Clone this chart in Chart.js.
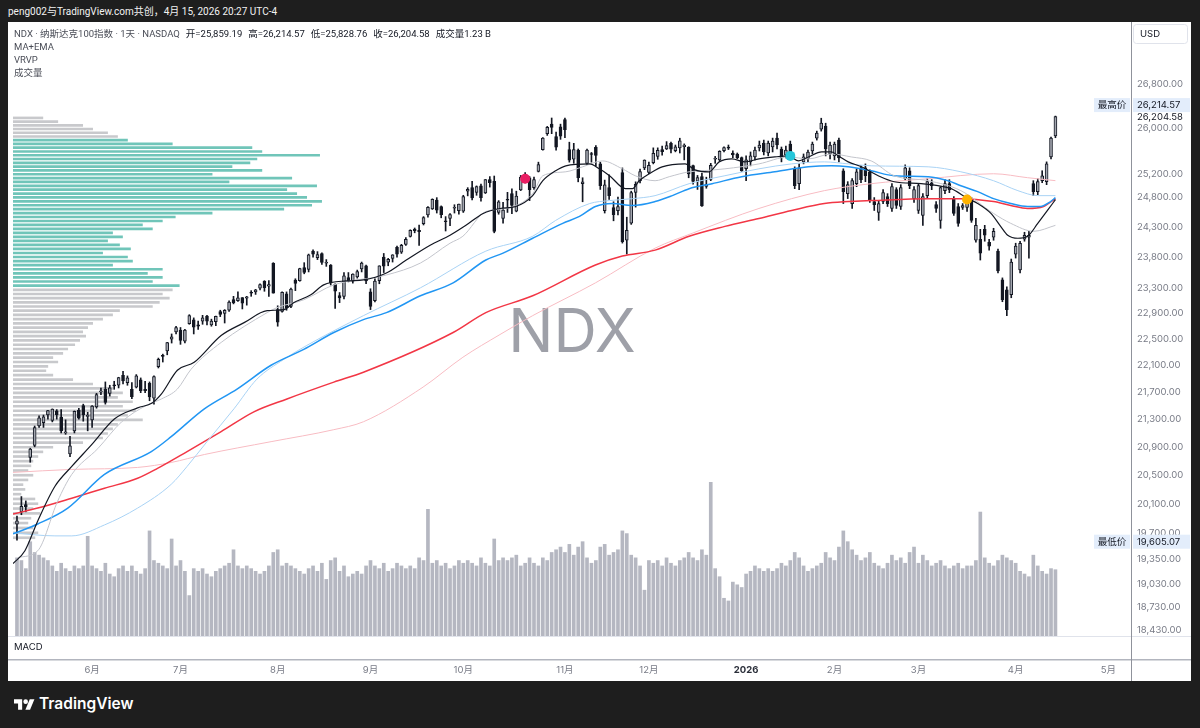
<!DOCTYPE html>
<html lang="zh-CN">
<head>
<meta charset="UTF-8">
<title>NDX · 纳斯达克100指数 · 1天</title>
<script src="https://cdn.jsdelivr.net/npm/chart.js"></script>
<style>
    html, body { margin: 0; padding: 0; }
    body {
        width: 1200px;
        height: 728px;
        overflow: hidden;
        position: relative;
        background: #1e1e1e;
        font-family: Roboto, "Noto Sans", "Noto Sans CJK SC", sans-serif;
    }
    #topbar {
        position: absolute;
        left: 8px;
        top: 4px;
        color: #f2f2f2;
        font-size: 10px;
        line-height: 16px;
    }
    #panel {
        position: absolute;
        left: 8px;
        top: 22px;
        width: 1183px;
        height: 659px;
        background: #fff;
    }
    #chart { position: absolute; left: 0; top: 0; }
    #legend {
        position: absolute;
        left: 6px;
        top: 5px;
        font-size: 9.5px;
        line-height: 13px;
        color: #131722;
        pointer-events: none;
    }
    #legend .t { color: #4a4d57; }
    #legend .g { margin-left: 6px; }
    #legend .s { color: #4a4d57; }
    #brand {
        position: absolute;
        left: 14px;
        top: 694px;
        color: #fff;
        font-family: Inter, Roboto, sans-serif;
        font-size: 15.5px;
        font-weight: 600;
        display: flex;
        align-items: center;
        gap: 4px;
    }
</style>
</head>
<body>

<div id="topbar">peng002与TradingView.com共创，4月 15, 2026 20:27 UTC-4</div>

<div id="panel">
    <canvas id="chart" width="1183" height="659"></canvas>
    <div id="legend">
        <div><span class="t">NDX · 纳斯达克100指数 · 1天 · NASDAQ</span><span class="g">开=25,859.19</span><span class="g">高=26,214.57</span><span class="g">低=25,828.76</span><span class="g">收=26,204.58</span><span class="g">成交量1.23 B</span></div>
        <div class="s">MA+EMA</div>
        <div class="s">VRVP</div>
        <div class="s">成交量</div>
    </div>
</div>

<div id="brand">
    <svg width="21" height="14" viewBox="0 0 36 24"><path fill="#fff" d="M14 22H7V11H0V4h14v18z"/><circle fill="#fff" cx="20" cy="8" r="4"/><path fill="#fff" d="M27.5 22H19.5l7.5-18h8z"/></svg>
    <span>TradingView</span>
</div>

<script>
    // daily candles [open, high, low, close], 2025-05-07 .. 2025-12-31
    const ohlc2025 = [
        // May
        [19820, 19930, 19605.07, 19868], [19990, 20200, 19950, 20064], [20090, 20140, 19990, 20061],
        [20750, 20880, 20680, 20868], [20920, 21200, 20900, 21179], [21200, 21350, 21180, 21319],
        [21250, 21360, 21180, 21335], [21360, 21430, 21300, 21427], [21280, 21450, 21260, 21447],
        [21420, 21440, 21300, 21367], [21330, 21440, 21100, 21130], [21100, 21290, 21080, 21112],
        [20800, 21050, 20760, 20915], [21130, 21420, 21100, 21414], [21430, 21460, 21300, 21315],
        [21500, 21520, 21270, 21363], [21340, 21400, 21130, 21341],
        // Jun
        [21290, 21500, 21180, 21492], [21480, 21680, 21460, 21662], [21700, 21760, 21660, 21719],
        [21740, 21850, 21520, 21547], [21680, 21800, 21640, 21762], [21800, 21860, 21740, 21791],
        [21800, 21920, 21760, 21914], [21950, 22010, 21820, 21866], [21840, 21940, 21800, 21913],
        [21740, 21840, 21600, 21631], [21770, 21960, 21760, 21940], [21880, 21910, 21690, 21720],
        [21740, 21860, 21690, 21720], [21830, 21850, 21570, 21626], [21610, 21940, 21520, 21931],
        [22080, 22210, 22060, 22191], [22250, 22270, 22150, 22237], [22320, 22450, 22260, 22447],
        [22500, 22580, 22440, 22534], [22610, 22700, 22580, 22679],
        // Jul
        [22640, 22680, 22420, 22480], [22470, 22650, 22440, 22641], [22740, 22880, 22730, 22867],
        [22800, 22830, 22580, 22686], [22720, 22780, 22650, 22700], [22780, 22870, 22730, 22830],
        [22860, 22870, 22720, 22780], [22720, 22810, 22700, 22780], [22770, 22860, 22710, 22856],
        [22930, 22950, 22850, 22885], [22900, 22960, 22750, 22950], [22950, 23100, 22930, 23077],
        [23120, 23170, 23050, 23066], [23100, 23240, 23090, 23144], [23150, 23150, 22970, 23061],
        [23140, 23170, 23030, 23162], [23220, 23260, 23170, 23219], [23240, 23280, 23200, 23272],
        [23300, 23370, 23270, 23357], [23410, 23420, 23250, 23308], [23330, 23420, 23170, 23356],
        [23700, 23710, 23220, 23218],
        // Aug
        [22960, 23020, 22700, 22763], [22930, 23240, 22920, 23232], [23210, 23240, 22950, 22988],
        [23010, 23300, 22990, 23283], [23430, 23450, 23260, 23377], [23420, 23620, 23410, 23613],
        [23630, 23710, 23530, 23552], [23600, 23850, 23560, 23839], [23900, 23920, 23800, 23850],
        [23790, 23890, 23760, 23841], [23860, 23870, 23680, 23713], [23700, 23760, 23650, 23713],
        [23670, 23680, 23350, 23385], [23360, 23370, 22980, 23252], [23180, 23230, 23070, 23143],
        [23170, 23550, 23130, 23498], [23470, 23550, 23400, 23415], [23410, 23530, 23380, 23525],
        [23480, 23590, 23460, 23565], [23610, 23720, 23560, 23704], [23660, 23670, 23370, 23415],
        // Sep
        [23240, 23290, 22960, 23010], [23100, 23450, 23080, 23414], [23420, 23660, 23370, 23658],
        [23800, 23860, 23550, 23653], [23720, 23780, 23660, 23763], [23780, 23840, 23720, 23839],
        [23960, 23980, 23800, 23849], [23880, 24010, 23860, 23994], [24010, 24120, 23990, 24092],
        [24140, 24250, 24130, 24240], [24260, 24280, 24200, 24235], [24240, 24330, 23990, 24217],
        [24350, 24470, 24330, 24454], [24500, 24640, 24460, 24626], [24600, 24770, 24590, 24762],
        [24750, 24790, 24530, 24580], [24640, 24650, 24450, 24504], [24400, 24470, 24230, 24384],
        [24440, 24520, 24320, 24504], [24610, 24670, 24530, 24611], [24570, 24680, 24510, 24680],
        // Oct
        [24560, 24830, 24540, 24810], [24900, 24960, 24820, 24932], [24960, 25070, 24750, 24785],
        [24880, 24990, 24830, 24978], [24990, 25020, 24730, 24791], [24870, 25100, 24860, 25098],
        [25100, 25150, 24970, 25044], [25070, 25160, 24200, 24221], [24540, 24740, 24510, 24721],
        [24440, 24710, 24360, 24579], [24760, 24880, 24540, 24746], [24860, 24940, 24520, 24657],
        [24560, 24900, 24550, 24818], [24920, 25170, 24910, 25142], [25150, 25220, 25040, 25137],
        [25130, 25150, 24740, 24927], [24960, 25140, 24930, 25098], [25240, 25400, 25230, 25358],
        [25620, 25830, 25610, 25822], [25900, 26030, 25870, 26012], [26070, 26180, 25900, 26012],
        [25850, 25930, 25610, 25660], [26020, 26070, 25800, 25858],
        // Nov
        [26150, 26180, 25830, 25972], [25620, 25750, 25400, 25435], [25450, 25730, 25380, 25620],
        [25610, 25630, 25060, 25130], [25030, 25130, 24720, 25059], [25380, 25630, 25360, 25611],
        [25540, 25570, 25400, 25533], [25660, 25690, 25330, 25518], [25370, 25400, 24930, 24993],
        [24570, 25090, 24530, 25008], [24960, 25180, 24760, 24822], [24620, 24720, 24400, 24503],
        [24570, 24800, 24500, 24640], [25220, 25300, 24030, 24054], [24080, 24460, 23850, 24240],
        [24360, 24900, 24340, 24878], [24880, 25060, 24630, 25018], [25080, 25280, 25040, 25237],
        [25300, 25440, 25270, 25435],
        // Dec
        [25220, 25400, 25200, 25343], [25390, 25650, 25370, 25556], [25500, 25650, 25450, 25606],
        [25620, 25680, 25520, 25582], [25630, 25760, 25620, 25692], [25730, 25750, 25560, 25628],
        [25600, 25700, 25580, 25666], [25650, 25820, 25560, 25776], [25670, 25720, 25440, 25699],
        [25660, 25670, 25130, 25197], [25340, 25350, 25020, 25067], [25070, 25170, 24930, 25132],
        [25150, 25210, 24640, 24648], [24980, 25140, 24950, 25019], [25100, 25380, 25080, 25346],
        [25450, 25500, 25380, 25462], [25440, 25600, 25420, 25588], [25600, 25670, 25580, 25656],
        [25660, 25700, 25620, 25644], [25560, 25600, 25480, 25525], [25540, 25560, 25460, 25475],
        [25480, 25490, 25240, 25250]
    ];

    // daily candles [open, high, low, close], 2026-01-02 .. 2026-04-15
    const ohlc2026 = [
        // Jan
        [25285, 25509, 25080, 25439], [25405, 25578, 25336, 25509], [25491, 25665, 25439, 25613],
        [25648, 25770, 25595, 25700], [25735, 25787, 25526, 25578], [25561, 25770, 25509, 25735],
        [25665, 25822, 25578, 25770], [25822, 25910, 25630, 25700], [25630, 25665, 25405, 25474],
        [25526, 25682, 25474, 25613], [25717, 25770, 25457, 25509], [25285, 25319, 24943, 24994],
        [25028, 25370, 24926, 25302], [25405, 25543, 25370, 25491], [25457, 25613, 25405, 25578],
        [25595, 25752, 25543, 25717], [25822, 25946, 25787, 25910], [25981, 26176, 25946, 26087],
        [26034, 26087, 25509, 25630], [25543, 25752, 25457, 25700],
        // Feb
        [25509, 25752, 25439, 25717], [25787, 25822, 25405, 25474], [25251, 25285, 24690, 24892],
        [24858, 25063, 24774, 25011], [24690, 25114, 24607, 25080], [25028, 25285, 24977, 25234],
        [25302, 25336, 25045, 25097], [25302, 25370, 25063, 25165], [25234, 25268, 24707, 24740],
        [24724, 24791, 24573, 24673], [24540, 24740, 24407, 24690], [24724, 24926, 24690, 24875],
        [24808, 24858, 24640, 24690], [24607, 25028, 24557, 24977], [24926, 24960, 24607, 24657],
        [24640, 25011, 24590, 24960], [25114, 25353, 25080, 25302], [25251, 25302, 24943, 24994],
        [24774, 24977, 24707, 24926],
        // Mar
        [24573, 25028, 24523, 24994], [24490, 24858, 24324, 24808], [24824, 25114, 24774, 25063],
        [25045, 25097, 24926, 24994], [24673, 24724, 24540, 24607], [24407, 24977, 24275, 24960],
        [24909, 25097, 24858, 25028], [25028, 25097, 24875, 24926], [24774, 24808, 24490, 24523],
        [24640, 24690, 24308, 24357], [24623, 24690, 24590, 24657], [24623, 24757, 24557, 24707],
        [24757, 24791, 24374, 24407], [24077, 24440, 24044, 24324], [24094, 24258, 23753, 23866],
        [24258, 24324, 24061, 24159], [24044, 24094, 23915, 23979], [24126, 24275, 24077, 24225],
        [23898, 23931, 23543, 23575], [23432, 23464, 23084, 23115], [23274, 23321, 22865, 22959],
        [23194, 23769, 23147, 23720],
        // Apr
        [23850, 24028, 23785, 23979], [23591, 24061, 23543, 24028], [24094, 24209, 24061, 24159],
        [24126, 24225, 23785, 24159], [25028, 25080, 24824, 24892], [24892, 25114, 24841, 25063],
        [25080, 25251, 25045, 25165], [25063, 25405, 25011, 25370], [25491, 25840, 25457, 25822],
        [25859.19, 26214.57, 25828.76, 26204.58]
    ];

    // daily volume, billions of shares (same order as the candles)
    const volume = [
        1.45, 1.40, 1.25, 1.75, 1.55, 1.50, 1.45, 1.40, 1.30, 1.20, 1.35, 1.25, 1.20, 1.30, 1.25, 1.30, 1.85,
        1.30, 1.25, 1.20, 1.35, 1.15, 1.10, 1.25, 1.30, 1.20, 1.30, 1.20, 1.15, 1.25, 1.95, 1.40, 1.35, 1.30, 1.25, 1.80, 1.30,
        1.40, 1.20, 0.75, 1.25, 1.20, 1.25, 1.15, 1.10, 1.20, 1.25, 1.30, 1.35, 1.60, 1.30, 1.25, 1.30, 1.25, 1.20, 1.15, 1.20, 1.30, 1.55,
        1.60, 1.30, 1.35, 1.30, 1.25, 1.20, 1.15, 1.25, 1.30, 1.20, 1.35, 1.05, 1.40, 1.45, 1.20, 1.30, 1.10, 1.15, 1.20, 1.15, 1.30,
        1.40, 1.30, 1.25, 1.35, 1.20, 1.25, 1.35, 1.30, 1.25, 1.30, 1.25, 1.45, 1.40, 2.35, 1.35, 1.40, 1.30, 1.35, 1.25, 1.30, 1.40,
        1.35, 1.40, 1.35, 1.30, 1.45, 1.35, 1.30, 1.80, 1.40, 1.45, 1.40, 1.45, 1.50, 1.30, 1.35, 1.45, 1.35, 1.30, 1.45, 1.40, 1.55, 1.60, 1.65,
        1.55, 1.70, 1.50, 1.65, 1.75, 1.45, 1.35, 1.40, 1.65, 1.70, 1.50, 1.55, 1.60, 1.95, 1.90, 1.50, 1.45, 1.30, 0.85,
        1.40, 1.35, 1.40, 1.30, 1.45, 1.35, 1.30, 1.40, 1.45, 1.55, 1.45, 1.40, 1.60, 1.50, 2.85, 1.25, 1.10, 0.70, 0.65, 1.00, 0.95, 0.90,
        1.15, 1.20, 1.30, 1.25, 1.20, 1.25, 1.20, 1.25, 1.35, 1.30, 1.40, 1.55, 1.45, 1.30, 1.20, 1.25, 1.30, 1.35, 1.55, 1.45,
        1.40, 1.65, 1.95, 1.75, 1.60, 1.50, 1.40, 1.45, 1.55, 1.35, 1.30, 1.25, 1.35, 1.50, 1.40, 1.45, 1.35, 1.55, 1.65,
        1.35, 1.50, 1.40, 1.30, 1.35, 1.40, 1.30, 1.25, 1.30, 1.35, 1.25, 1.30, 1.30, 1.40, 2.30, 1.45, 1.35, 1.30, 1.40, 1.50, 1.45, 1.40,
        1.35, 1.20, 1.15, 1.10, 1.50, 1.30, 1.20, 1.15, 1.25, 1.23
    ];

    // moving averages: [bar index, price]
    const emaFast = [
        [-0.9, 19293], [1.8, 19464], [4.7, 19865], [8.6, 20343], [12.4, 20621], [16.9, 20931],
        [22.1, 21305], [27.3, 21465], [30.6, 21538], [32.7, 21671], [36.3, 22026], [40.1, 22146],
        [46.2, 22556], [51.4, 22756], [56.6, 22943], [60.4, 22959], [62.6, 23068], [66.5, 23194],
        [69.4, 23352], [74.6, 23416], [78.4, 23432], [83.6, 23543], [88.1, 23753], [93.5, 23996],
        [98.0, 24159], [101.6, 24324], [105.5, 24523], [109.3, 24606], [112.9, 24640], [116.7, 24824],
        [119.0, 25079], [121.9, 25250], [124.2, 25336], [129.6, 25370], [131.8, 25284], [134.1, 25165],
        [137.7, 24943], [139.3, 24943], [140.8, 25079], [143.1, 25199], [146.0, 25319], [151.2, 25370],
        [153.4, 25267], [156.6, 25233], [158.9, 25405], [161.8, 25457], [164.7, 25405], [167.9, 25457],
        [171.5, 25491], [174.6, 25508], [176.9, 25422], [179.1, 25491], [182.1, 25578], [184.3, 25578],
        [185.9, 25508], [188.1, 25405], [191.1, 25319], [194.9, 25165], [198.5, 25062], [204.6, 25028],
        [208.4, 24994], [211.4, 24943], [215.2, 24773], [217.4, 24690], [220.4, 24523], [222.6, 24307],
        [224.2, 24159], [226.5, 24110], [228.7, 24143], [231.0, 24357], [233.2, 24573], [235.0, 24757]
    ];
    const smaFast = [
        [0.2, 19373], [4.7, 19464], [9.2, 20136], [12.4, 20509], [18.3, 20875], [23.7, 21262],
        [29.5, 21509], [32.7, 21597], [36.3, 21744], [39.4, 22041], [46.2, 22449], [56.6, 22912],
        [58.8, 22990], [64.9, 23115], [71.7, 23352], [83.6, 23511], [91.3, 23704], [98.0, 24028],
        [100.9, 24143], [106.1, 24556], [110.6, 24606], [116.7, 24858], [119.0, 25165], [124.2, 25233],
        [128.0, 25319], [132.5, 25422], [137.0, 25284], [139.9, 25165], [144.4, 25079], [147.6, 25148],
        [152.1, 25233], [155.0, 25250], [160.2, 25284], [167.9, 25370], [174.6, 25491], [179.1, 25457],
        [184.3, 25543], [188.8, 25491], [193.3, 25422], [198.5, 25165], [206.2, 25079], [213.6, 24909],
        [221.0, 24523], [224.9, 24357], [230.1, 24225], [235.0, 24324]
    ];
    const emaMid = [
        [-0.9, 19690], [4.7, 19824], [11.5, 20041], [19.8, 20509], [30.4, 20832], [34.9, 21046],
        [42.4, 21451], [49.8, 21744], [57.5, 22101], [64.9, 22343], [71.7, 22602], [78.4, 22803],
        [83.6, 22912], [91.3, 23178], [98.7, 23384], [106.1, 23753], [110.0, 23866], [116.7, 24110],
        [123.5, 24357], [127.3, 24473], [130.9, 24640], [134.7, 24690], [139.3, 24656], [144.4, 24723],
        [148.3, 24824], [152.1, 24943], [157.3, 25028], [164.0, 25148], [171.5, 25233], [179.1, 25319],
        [184.3, 25336], [188.1, 25319], [193.3, 25250], [198.5, 25165], [206.2, 25148], [210.7, 25079],
        [213.6, 24994], [217.4, 24892], [221.0, 24773], [224.9, 24690], [228.7, 24640], [231.6, 24640],
        [233.9, 24723], [235.0, 24790]
    ];
    const smaMid = [
        [-0.9, 19703], [8.6, 19663], [12.4, 19663], [19.8, 19811], [27.3, 20041], [34.9, 20370],
        [38.5, 20621], [43.0, 20974], [49.1, 21451], [54.3, 21892], [60.4, 22191], [65.6, 22404],
        [78.4, 22865], [91.3, 23305], [106.1, 23898], [116.7, 24143], [121.9, 24406], [129.6, 24690],
        [134.1, 24740], [139.3, 24773], [144.4, 24824], [152.1, 25028], [160.2, 25165], [167.9, 25284],
        [175.3, 25370], [182.7, 25405], [188.1, 25370], [193.3, 25336], [206.2, 25319], [213.6, 25233],
        [221.0, 25079], [226.5, 24909], [231.0, 24824], [235.0, 24824]
    ];
    const emaSlow = [
        [-0.9, 19959], [4.7, 20041], [12.4, 20177], [19.8, 20315], [27.3, 20454], [31.8, 20593],
        [38.5, 20832], [46.2, 21118], [53.6, 21407], [61.1, 21597], [71.7, 21847], [78.4, 21996],
        [98.7, 22602], [106.1, 22912], [116.7, 23178], [130.9, 23672], [137.0, 23817], [144.4, 23915],
        [152.1, 24143], [160.2, 24307], [167.9, 24440], [175.3, 24573], [182.7, 24690], [188.1, 24723],
        [193.3, 24740], [206.2, 24773], [213.6, 24773], [221.0, 24723], [224.9, 24656], [228.7, 24606],
        [232.3, 24640], [235.0, 24773]
    ];
    const smaSlow = [
        [-0.9, 20537], [12.4, 20579], [27.3, 20607], [34.9, 20677], [42.4, 20790], [57.5, 20974],
        [71.7, 21147], [78.4, 21262], [91.9, 21773], [100.9, 22222], [109.3, 22571], [116.7, 22865],
        [130.9, 23384], [144.4, 23947], [152.8, 24192], [167.9, 24607], [182.7, 24909], [193.3, 25028],
        [206.2, 25114], [221.0, 25199], [228.7, 25131], [235.0, 25080]
    ];

    // signal dots [bar index, price]
    const signals = [[115, 25114], [175, 25509], [215, 24757]];
    const signalColors = ['#e91e63', '#26c6da', '#ffb300'];

    // visible range volume profile, bottom row first (relative volume)
    const vrvpLow = 19605.07;
    const vrvpHigh = 26214.57;
    const vrvpVolume = [
        22, 25, 20, 15, 18, 27, 20, 25, 22, 8,
        12, 10, 15, 20, 15, 18, 20, 25, 30, 40,
        70, 90, 95, 100, 105, 130, 115, 123, 110, 120,
        105, 110, 100, 80, 60, 40, 33, 35, 45, 40,
        50, 55, 62, 67, 73, 70, 75, 80, 90, 100,
        107, 140, 147, 157, 150, 160, 167, 140, 150, 135,
        150, 100, 120, 115, 90, 118, 107, 95, 110, 100,
        140, 130, 150, 163, 200, 272, 300, 310, 295, 285,
        275, 305, 217, 280, 200, 250, 220, 238, 245, 308,
        250, 240, 160, 115, 105, 95, 80, 70, 45, 30
    ];
    const valueAreaFrom = 56;
    const valueAreaTo = 93;

    // axis ticks
    const priceTicks = [26800, 26000, 25200, 24800, 24300, 23800, 23300, 22900, 22500, 22100,
                        21700, 21300, 20900, 20500, 20100, 19700, 19350, 19030, 18730, 18430];
    const monthTicks = [[17, '6月'], [37, '7月'], [59, '8月'], [80, '9月'], [101, '10月'], [124, '11月'],
                        [143, '12月'], [165, '2026'], [185, '2月'], [204, '3月'], [226, '4月'], [247, '5月']];

    const lastClose = 26204.58;
    const rangeHigh = 26214.57;
    const rangeLow = 19605.07;

    Chart.defaults.font.family = 'Inter, "Noto Sans", "Noto Sans CJK SC", sans-serif';

    const ohlc = ohlc2025.concat(ohlc2026);
    const UP = '#a3a6af';
    const DOWN = '#131722';
    const isUp = i => i === undefined || ohlc[i][3] >= ohlc[i][0];

    const fmtPrice = v => Number(v).toLocaleString('en-US', { minimumFractionDigits: 2, maximumFractionDigits: 2 });

    function maLine(label, pts, color, width, order) {
        return {
            type: 'line',
            label: label,
            data: pts.map(p => ({ x: p[0], y: p[1] })),
            borderColor: color,
            borderWidth: width,
            pointRadius: 0,
            cubicInterpolationMode: 'monotone',
            fill: false,
            order: order
        };
    }

    const rowSize = (vrvpHigh - vrvpLow) / vrvpVolume.length;
    const vrvpData = vrvpVolume.map((v, i) => ({ x: v, y: vrvpLow + (i + 0.5) * rowSize }));

    // watermark, pane borders and price tags
    const decor = {
        id: 'decor',
        beforeDatasetsDraw(chart) {
            const { ctx, chartArea: a } = chart;
            ctx.save();
            ctx.font = '400 60px Inter, "Noto Sans", sans-serif';
            ctx.fillStyle = 'rgba(120, 123, 134, 0.72)';
            ctx.textAlign = 'center';
            ctx.textBaseline = 'middle';
            ctx.fillText('NDX', (a.left + a.right) / 2, (a.top + a.bottom) / 2 + 2);
            ctx.restore();
        },
        afterDraw(chart) {
            const { ctx, chartArea: a, width, height } = chart;
            const ys = chart.scales.y;
            const font = '9.5px Inter, "Noto Sans CJK SC", sans-serif';
            ctx.save();

            ctx.fillStyle = '#e0e3eb';
            ctx.fillRect(0, a.bottom, width, 1);
            ctx.fillStyle = '#b2b5be';
            ctx.fillRect(0, a.bottom + 23, width, 1.5);
            ctx.fillStyle = '#8f929b';
            ctx.fillRect(a.right, 0, 1, height);

            ctx.font = font;
            ctx.textBaseline = 'middle';
            ctx.fillStyle = '#131722';
            ctx.fillText('MACD', 6, a.bottom + 11);

            // currency box
            ctx.strokeStyle = '#e0e3eb';
            ctx.lineWidth = 1;
            ctx.beginPath();
            ctx.roundRect(a.right + 2.5, 2.5, 54, 19, 3);
            ctx.stroke();
            ctx.fillStyle = '#131722';
            ctx.fillText('USD', a.right + 9, 12);

            function tag(name, value, y) {
                ctx.fillStyle = '#e3edfb';
                ctx.fillRect(a.right + 2, y - 7, width - a.right - 3, 14);
                ctx.fillRect(a.right - 37, y - 7, 36, 14);
                ctx.fillStyle = '#131722';
                ctx.textAlign = 'left';
                ctx.fillText(fmtPrice(value), a.right + 6, y);
                ctx.textAlign = 'center';
                ctx.fillText(name, a.right - 19, y);
            }
            tag('最高价', rangeHigh, ys.getPixelForValue(rangeHigh) - 11);
            tag('最低价', rangeLow, ys.getPixelForValue(rangeLow) + 1.5);

            ctx.textAlign = 'left';
            ctx.fillStyle = '#131722';
            ctx.fillText(fmtPrice(lastClose), a.right + 6, ys.getPixelForValue(lastClose) + 1);
            ctx.restore();
        }
    };

    const ctx = document.getElementById('chart').getContext('2d');
    new Chart(ctx, {
        type: 'bar',
        data: {
            datasets: [
                {
                    type: 'line',
                    label: 'signals',
                    data: signals.map(s => ({ x: s[0], y: s[1] })),
                    showLine: false,
                    pointRadius: 5,
                    pointHoverRadius: 5,
                    pointBackgroundColor: signalColors,
                    pointBorderWidth: 0,
                    order: 0
                },
                maLine('EMA fast', emaFast, '#131722', 1.2, 1),
                maLine('SMA fast', smaFast, '#c3c5cc', 1, 2),
                maLine('EMA mid', emaMid, '#2196f3', 1.5, 3),
                maLine('SMA mid', smaMid, '#a9d3f5', 1, 4),
                maLine('EMA slow', emaSlow, '#f23645', 1.5, 5),
                maLine('SMA slow', smaSlow, '#f8bcc3', 1, 6),
                {
                    label: 'body',
                    data: ohlc.map((k, i) => ({ x: i, y: [k[0], k[3]] })),
                    backgroundColor: c => isUp(c.dataIndex) ? UP : DOWN,
                    borderColor: DOWN,
                    borderWidth: 1,
                    borderSkipped: false,
                    barThickness: 3,
                    minBarLength: 1,
                    grouped: false,
                    order: 7
                },
                {
                    label: 'wick',
                    data: ohlc.map((k, i) => ({ x: i, y: [k[2], k[1]] })),
                    backgroundColor: DOWN,
                    barThickness: 1,
                    grouped: false,
                    order: 8
                },
                {
                    label: 'volume',
                    data: volume.map((v, i) => ({ x: i, y: v })),
                    yAxisID: 'yv',
                    backgroundColor: '#b5b7c1',
                    barThickness: 3,
                    grouped: false,
                    order: 9
                },
                {
                    label: 'VRVP',
                    indexAxis: 'y',
                    xAxisID: 'xp',
                    yAxisID: 'y',
                    data: vrvpData,
                    backgroundColor: c => (c.dataIndex >= valueAreaFrom && c.dataIndex <= valueAreaTo) ? '#70c5b9' : '#c8c9cc',
                    barThickness: 2,
                    grouped: false,
                    order: 10
                }
            ]
        },
        options: {
            responsive: false,
            animation: false,
            layout: { padding: 0 },
            plugins: {
                legend: { display: false },
                tooltip: { enabled: false }
            },
            scales: {
                x: {
                    type: 'linear',
                    min: -0.9,
                    max: 252.1,
                    bounds: 'data',
                    offset: false,
                    grid: { display: false, drawTicks: false, offset: false },
                    border: { display: false },
                    afterBuildTicks: s => { s.ticks = monthTicks.map(m => ({ value: m[0] })); },
                    afterFit: s => { s.height = 45; s.paddingLeft = 0; s.paddingRight = 0; },
                    ticks: {
                        autoSkip: false,
                        maxRotation: 0,
                        padding: 28,
                        color: c => (c.tick && c.tick.value === 165) ? '#2a2e39' : '#787b86',
                        font: c => ({ size: 9.5, weight: (c.tick && c.tick.value === 165) ? '700' : '400' }),
                        callback: v => {
                            const m = monthTicks.find(t => t[0] === v);
                            return m ? m[1] : '';
                        }
                    }
                },
                y: {
                    type: 'logarithmic',
                    position: 'right',
                    min: 18359.7,
                    max: 27864,
                    bounds: 'data',
                    offset: false,
                    grid: { display: false, drawTicks: false, offset: false },
                    border: { display: false },
                    afterBuildTicks: s => { s.ticks = priceTicks.map(v => ({ value: v })); },
                    afterFit: s => { s.width = 60; s.paddingTop = 0; s.paddingBottom = 0; },
                    ticks: {
                        autoSkip: false,
                        padding: 6,
                        crossAlign: 'near',
                        color: '#787b86',
                        font: { size: 9.5 },
                        callback: v => fmtPrice(v)
                    }
                },
                yv: { type: 'linear', display: false, min: 0, max: 11.3, offset: false },
                xp: { type: 'linear', display: false, min: 0, max: 1123, offset: false }
            }
        },
        plugins: [decor]
    });
</script>
</body>
</html>
